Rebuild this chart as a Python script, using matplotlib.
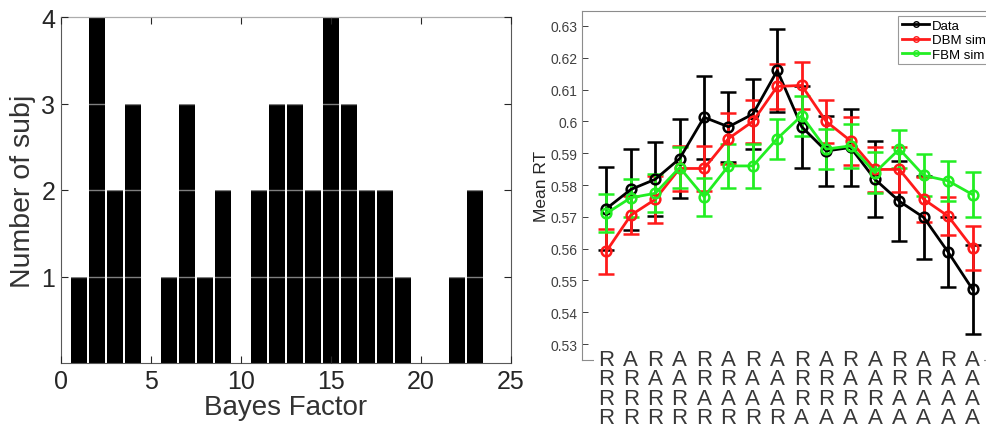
import matplotlib
matplotlib.use("Agg")
import matplotlib.pyplot as plt
import matplotlib.transforms as mtransforms
from matplotlib.lines import Line2D

plt.rcParams['font.family'] = ['Liberation Sans', 'DejaVu Sans']

# ---------------- data ----------------
bf_bins = list(range(1, 24))
bf_counts = [1, 4, 2, 3, 0, 1, 3, 1, 2, 0, 2, 3, 3, 2, 4, 3, 2, 2, 1, 0, 0, 1, 2]

cond_x = list(range(1, 17))
row1 = ["R", "A", "R", "A", "R", "A", "R", "A", "R", "A", "R", "A", "R", "A", "R", "A"]
row2 = ["R", "R", "A", "A", "R", "R", "A", "A", "R", "R", "A", "A", "R", "R", "A", "A"]
row3 = ["R", "R", "R", "R", "A", "A", "A", "A", "R", "R", "R", "R", "A", "A", "A", "A"]
row4 = ["R", "R", "R", "R", "R", "R", "R", "R", "A", "A", "A", "A", "A", "A", "A", "A"]

data_mean = [0.5726, 0.5786, 0.5818, 0.5883, 0.6013, 0.5983, 0.6023, 0.6160,
             0.5983, 0.5907, 0.5918, 0.5818, 0.5749, 0.5698, 0.5589, 0.5472]
data_err = [0.013, 0.0127, 0.0116, 0.0125, 0.013, 0.011, 0.011, 0.013,
            0.0128, 0.011, 0.012, 0.012, 0.0125, 0.013, 0.011, 0.014]
dbm_mean = [0.5592, 0.5705, 0.5755, 0.5852, 0.5852, 0.5946, 0.6000, 0.6110,
            0.6113, 0.6000, 0.5939, 0.5849, 0.5849, 0.5755, 0.5702, 0.5602]
dbm_err = [0.0071, 0.006, 0.0073, 0.007, 0.007, 0.008, 0.0067, 0.007,
           0.0073, 0.0068, 0.0075, 0.007, 0.007, 0.007, 0.006, 0.007]
fbm_mean = [0.5711, 0.5760, 0.5774, 0.5855, 0.5763, 0.5860, 0.5860, 0.5946,
            0.6018, 0.5913, 0.5923, 0.5839, 0.5913, 0.5830, 0.5813, 0.5770]
fbm_err = [0.006, 0.006, 0.006, 0.0065, 0.006, 0.007, 0.007, 0.0063,
           0.0063, 0.0063, 0.007, 0.0065, 0.006, 0.0066, 0.0063, 0.007]

rt_ticks = [0.53, 0.54, 0.55, 0.56, 0.57, 0.58, 0.59, 0.60, 0.61, 0.62, 0.63]
rt_ticklabels = ["0.53", "0.54", "0.55", "0.56", "0.57", "0.58", "0.59", "0.6", "0.61", "0.62", "0.63"]

# ---------------- figure ----------------
W, H = 987, 431
fig = plt.figure(figsize=(W / 100, H / 100), dpi=100)

def px_axes(l, t, r, b):
    return [l / W, (H - b) / H, (r - l) / W, (b - t) / H]

# Left: histogram
ax1 = fig.add_axes(px_axes(61, 18, 511, 364))
ax1.bar(bf_bins, bf_counts, width=0.85, color='black', zorder=1)
ax1.set_xlim(0, 25)
ax1.set_ylim(0, 4)
ax1.set_xticks([0, 5, 10, 15, 20, 25])
ax1.set_yticks([1, 2, 3, 4])
ax1.set_axisbelow(False)
ax1.yaxis.grid(True, color='white', alpha=0.5, linewidth=1.0)
ax1.tick_params(direction='in', top=True, right=True, length=5, width=0.8,
                labelsize=18, colors='0.15', pad=4)
for s in ax1.spines.values():
    s.set_color('0.35')
    s.set_linewidth(0.8)
ax1.set_xlabel('Bayes Factor', fontsize=20, color='0.2', labelpad=1)
ax1.set_ylabel('Number of subj', fontsize=20.5, color='0.2', labelpad=4)

# Right: mean RT with error bars
ax2 = fig.add_axes(px_axes(582, 12, 997, 361))
ax2.set_xlim(0, 17)
ax2.set_ylim(0.525, 0.6347)

series = [
    (data_mean, data_err, 'black', 'Data'),
    (dbm_mean, dbm_err, '#ff1a1a', 'DBM sim'),
    (fbm_mean, fbm_err, '#22ee22', 'FBM sim'),
]
handles = []
for mean, err, col, lab in series:
    ax2.errorbar(cond_x, mean, yerr=err, color=col, linewidth=2.0,
                 elinewidth=2.0, capsize=5.5, capthick=2.0, marker='o',
                 markersize=7, markerfacecolor='none', markeredgewidth=1.8)
    handles.append(Line2D([], [], color=col, linewidth=2.0, marker='o',
                          markersize=4, markerfacecolor='none',
                          markeredgewidth=1.0, label=lab))

ax2.set_yticks(rt_ticks)
ax2.set_yticklabels(rt_ticklabels)
ax2.set_xticks([])
ax2.tick_params(axis='y', direction='in', length=4, width=0.7,
                labelsize=10, colors='0.25', pad=3)
for s in ax2.spines.values():
    s.set_color('0.55')
    s.set_linewidth(0.8)
ax2.set_ylabel('Mean RT', fontsize=12.5, color='0.15', labelpad=1)

leg = ax2.legend(handles=handles, loc='upper left',
                 bbox_to_anchor=(0.761, 0.986), fontsize=9.5,
                 frameon=True, fancybox=False, handlelength=2.1,
                 handletextpad=0.2, borderpad=0.3, labelspacing=0.15,
                 borderaxespad=0.0)
leg.get_frame().set_edgecolor('0.5')
leg.get_frame().set_linewidth(0.8)

trans = mtransforms.blended_transform_factory(ax2.transData, ax2.transAxes)
for i, x in enumerate(cond_x):
    label = "\n".join([row1[i], row2[i], row3[i], row4[i]])
    ax2.text(x, 0.032, label, transform=trans, ha='center', va='top',
             fontsize=16, color='0.22', linespacing=0.9, clip_on=False,
             zorder=5,
             bbox=dict(boxstyle='square,pad=0.2', facecolor='white',
                       edgecolor='none'))

fig.savefig('out.png', dpi=100)
